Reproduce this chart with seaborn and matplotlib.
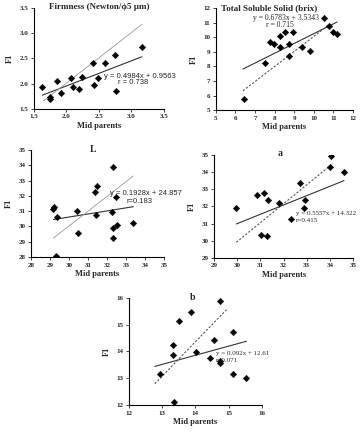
import matplotlib
matplotlib.use("Agg")
import matplotlib.pyplot as plt
import seaborn as sns
import pandas as pd

# ---- data ----
# Firmness (Newton/phi5 um)
firm_mid = [1.63, 1.75, 1.74, 1.86, 1.91, 2.07, 2.10, 2.19, 2.24, 2.41, 2.42, 2.48, 2.59, 2.75, 2.77, 3.16]
firm_f1 = [1.93, 1.73, 1.70, 2.06, 1.82, 2.12, 1.94, 1.89, 2.14, 2.41, 1.97, 2.12, 2.41, 2.56, 1.86, 2.73]
firm_fit_x, firm_fit_y = [1.63, 3.16], [1.77, 2.53]
firm_ref_x, firm_ref_y = [1.65, 3.16], [1.66, 3.17]

# Total soluble solid (brix)
tss_mid = [6.41, 7.52, 7.74, 7.95, 8.29, 8.29, 8.51, 8.71, 8.71, 8.94, 9.40, 9.82, 10.50, 10.76, 10.98, 11.18]
tss_f1 = [5.80, 8.21, 9.70, 9.52, 10.11, 9.36, 10.39, 9.52, 8.72, 10.39, 9.31, 9.08, 11.31, 10.80, 10.39, 10.21]
tss_fit_x, tss_fit_y = [6.38, 11.18], [7.82, 11.05]
tss_ref_x, tss_ref_y = [6.38, 10.76], [6.33, 10.85]

# L
l_mid = [29.14, 29.23, 29.39, 29.32, 30.40, 30.46, 31.37, 31.46, 31.42, 32.26, 32.33, 32.33, 32.33, 32.47, 32.51, 33.39]
l_f1 = [31.17, 31.26, 30.59, 28.07, 31.04, 29.57, 32.28, 32.65, 30.76, 30.93, 33.91, 29.93, 29.24, 31.91, 30.09, 30.20]
l_fit_x, l_fit_y = [29.18, 33.39], [30.45, 31.29]
l_ref_x, l_ref_y = [29.18, 33.39], [29.24, 33.30]

# a
a_mid = [29.96, 30.87, 31.16, 31.33, 31.04, 31.29, 31.81, 32.31, 32.73, 32.91, 32.88, 34.00, 34.06, 34.61]
a_f1 = [31.94, 32.68, 32.81, 32.35, 30.36, 30.26, 32.23, 31.29, 33.39, 32.39, 31.94, 34.28, 34.96, 34.03]
a_fit_x, a_fit_y = [29.96, 34.61], [30.98, 33.51]
a_ref_x, a_ref_y = [29.96, 34.14], [29.91, 34.52]

# b
b_mid = [12.95, 13.33, 13.33, 13.35, 13.50, 13.88, 14.03, 14.44, 14.56, 14.74, 14.74, 14.74, 15.14, 15.14, 15.54]
b_f1 = [13.15, 14.25, 13.85, 12.12, 15.12, 15.47, 13.98, 13.75, 14.41, 15.87, 13.65, 13.55, 14.72, 13.15, 13.00]
b_fit_x, b_fit_y = [12.78, 15.54], [13.44, 14.38]
b_ref_x, b_ref_y = [12.78, 14.94], [12.79, 15.56]

sns.set_style("ticks")
plt.rcParams['font.family'] = ['Liberation Serif', 'DejaVu Serif']
SERIF = ['Liberation Serif', 'DejaVu Serif']
SANS = ['Liberation Sans', 'DejaVu Sans']

fig = plt.figure(figsize=(3.61, 4.32), dpi=100)

panels = [
    dict(rect=[0.094, 0.748, 0.360, 0.234], title="Firmness (Newton/ϕ5 µm)", tx=0.5, ty=1.01, tsize=6.5,
         x=firm_mid, y=firm_f1, fit=(firm_fit_x, firm_fit_y), ref=(firm_ref_x, firm_ref_y), dashed=False,
         xlim=(1.5, 3.5), xt=[1.5, 2.0, 2.5, 3.0, 3.5], ylim=(1.5, 3.5), yt=[1.5, 2.0, 2.5, 3.0, 3.5], fmt="{:.1f}",
         eq="y = 0.4984x + 0.9563", r="r = 0.738", eqpos=(2.58, 2.15), rpos=(3.02, 2.02), rha='center',
         efont=SANS, esize=5.5),
    dict(rect=[0.598, 0.745, 0.380, 0.236], title="Total Soluble Solid (brix)", tx=0.39, ty=1.0, tsize=6.5,
         x=tss_mid, y=tss_f1, fit=(tss_fit_x, tss_fit_y), ref=(tss_ref_x, tss_ref_y), dashed=True,
         xlim=(5, 12), xt=list(range(5, 13)), ylim=(5, 12), yt=list(range(5, 13)), fmt="{:d}",
         eq="y = 0.6783x + 3.5343", r="r = 0.715", eqpos=(6.89, 11.33), rpos=(8.29, 10.83), rha='center',
         efont=SERIF, esize=5.5),
    dict(rect=[0.086, 0.405, 0.368, 0.248], title="L", tx=0.466, ty=1.0, tsize=7,
         x=l_mid, y=l_f1, fit=(l_fit_x, l_fit_y), ref=(l_ref_x, l_ref_y), dashed=False,
         xlim=(28, 35), xt=list(range(28, 36)), ylim=(28, 35), yt=list(range(28, 36)), fmt="{:d}",
         eq="y = 0.1928x + 24.857", r="r=0.183", eqpos=(32.16, 32.12), rpos=(33.74, 31.6), rha='center',
         efont=SANS, esize=5.5),
    dict(rect=[0.593, 0.403, 0.385, 0.238], title="a", tx=0.475, ty=1.02, tsize=7,
         x=a_mid, y=a_f1, fit=(a_fit_x, a_fit_y), ref=(a_ref_x, a_ref_y), dashed=True,
         xlim=(29, 35), xt=list(range(29, 36)), ylim=(29, 35), yt=list(range(29, 36)), fmt="{:d}",
         eq="y = 0.5557x + 14.322", r="r=0.415", eqpos=(32.53, 31.62), rpos=(32.55, 31.2), rha='left',
         efont=SERIF, esize=5.0),
    dict(rect=[0.357, 0.0625, 0.368, 0.248], title="b", tx=0.48, ty=1.0, tsize=7,
         x=b_mid, y=b_f1, fit=(b_fit_x, b_fit_y), ref=(b_ref_x, b_ref_y), dashed=True,
         xlim=(12, 16), xt=list(range(12, 17)), ylim=(12, 16), yt=list(range(12, 17)), fmt="{:d}",
         eq="y = 0.092x + 12.61", r="r=0.071", eqpos=(14.62, 13.94), rpos=(14.62, 13.66), rha='left',
         efont=SERIF, esize=5.0),
]

for p in panels:
    ax = fig.add_axes(p['rect'])
    df = pd.DataFrame({'mid': p['x'], 'f1': p['y']})
    sns.scatterplot(data=df, x='mid', y='f1', ax=ax, marker='D', s=11, color='black',
                    edgecolor='black', linewidth=0.3, zorder=3)
    sns.lineplot(x=p['fit'][0], y=p['fit'][1], ax=ax, color='#333333', linewidth=0.8)
    if p['dashed']:
        sns.lineplot(x=p['ref'][0], y=p['ref'][1], ax=ax, color='#555555', linewidth=0.8,
                     linestyle=(0, (2, 1.5)))
    else:
        sns.lineplot(x=p['ref'][0], y=p['ref'][1], ax=ax, color='#999999', linewidth=0.6)

    ax.set_xlim(*p['xlim'])
    ax.set_ylim(*p['ylim'])
    ax.set_xticks(p['xt'])
    ax.set_yticks(p['yt'])
    ax.set_xticklabels([p['fmt'].format(v) for v in p['xt']], fontsize=5, fontweight='bold')
    ax.set_yticklabels([p['fmt'].format(v) for v in p['yt']], fontsize=5, fontweight='bold')
    ax.tick_params(length=2, width=0.6, pad=2)
    for s in ['top', 'right']:
        ax.spines[s].set_visible(False)
    for s in ['left', 'bottom']:
        ax.spines[s].set_linewidth(0.8)
        ax.spines[s].set_color('black')
    ax.set_xlabel("Mid parents", fontsize=6, fontweight='bold', labelpad=2)
    ax.set_ylabel("F1", fontsize=6, fontweight='bold', labelpad=4)
    ax.text(p['tx'], p['ty'], p['title'], transform=ax.transAxes, ha='center', va='center',
            fontsize=p['tsize'], fontweight='bold')
    ax.text(p['eqpos'][0], p['eqpos'][1], p['eq'], fontsize=p['esize'], family=p['efont'],
            ha='left', va='center')
    ax.text(p['rpos'][0], p['rpos'][1], p['r'], fontsize=p['esize'], family=p['efont'],
            ha=p['rha'], va='center')

fig.savefig("out.png", dpi=100)
